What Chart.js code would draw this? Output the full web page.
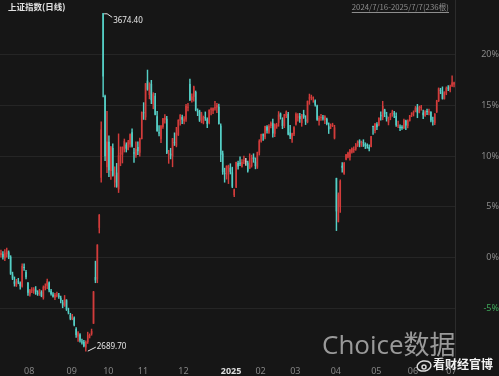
<!DOCTYPE html>
<html>
<head>
<meta charset="utf-8">
<script src="https://cdn.jsdelivr.net/npm/chart.js@4.4.0/dist/chart.umd.min.js"></script>
<style>
  html, body { margin: 0; padding: 0; background: #161616; }
  #wrap { width: 499px; height: 376px; position: relative; }
</style>
</head>
<body>
<div id="wrap"><canvas id="kChart"></canvas></div>
<script>
// month tick labels and number of trading days in each month (2024/7/16 - 2025/7/7)
const monthLabels = ['07', '08', '09', '10', '11', '12', '2025', '02', '03', '04', '05', '06', '07'];
const monthDays = [12, 22, 19, 18, 21, 22, 18, 18, 21, 21, 19, 20, 5];

// daily candles, one line per month
const opens = [
  2970,2973,2960,2972,2978,2965,2913,2893,2880,2893,2889,2878,
  2935,2920,2888,2855,2868,2866,2869,2860,2856,2862,2845,2873,2880,2890,2866,2855,2845,2852,2852,2845,2832,2822,
  2838,2806,2795,2784,2787,2754,2732,2738,2718,2716,2700,2716,2734,2740,2770,2906,2899,3049,3195,
  3674.4,3433,3226,3300,3215,3282,3181,3210,3161,3263,3262,3277,3292,3277,3292,3328,3269,3260,
  3285,3268,3308,3384,3371,3478,3436,3469,3410,3434,3374,3328,3307,3343,3364,3367,3263,3265,3257,3298,3289,
  3320,3361,3372,3360,3365,3399,3468,3422,3431,3445,3387,3388,3364,3355,3372,3366,3355,3393,3390,3398,3400,3402,
  3347,3266,3209,3204,3222,3224,3211,3144,3167,3238,3238,3227,3243,3243,3239,3222,3229,3255,
  3242,3225,3268,3301,3319,3313,3344,3326,3346,3354,3323,3344,3355,3382,3364,3346,3375,3381,
  3327,3306,3322,3350,3371,3375,3354,3381,3365,3357,3426,3428,3426,3420,3405,3360,3369,3371,3363,3367,3345,
  3345,3347,3310,3194,3066,3110,3230,3207,3248,3254,3255,3269,3276,3278,3289,3303,3290,3298,3294,3288,3285,
  3285,3345,3331,3351,3348,3376,3370,3394,3376,3356,3369,3381,3381,3375,3345,3344,3343,3340,3362,
  3346,3361,3378,3383,3388,3400,3385,3398,3385,3376,3389,3385,3387,3361,3354,3386,3419,3450,3447,3425,
  3441,3457,3450,3461,3467
];
const highs = [
  2984,2980,2986,2990,2982,2968,2920,2906,2899,2902,2892,2944,
  2944,2925,2890,2870,2875,2875,2878,2866,2870,2866,2880,2886,2900,2892,2870,2860,2858,2862,2858,2850,2838,2852,
  2840,2815,2800,2797,2790,2758,2747,2741,2725,2721,2720,2745,2740,2754,2864,2952,3000,3088,3358,
  3674.4,3436,3389,3317,3287,3294,3227,3237,3323,3285,3285,3308,3297,3304,3323,3338,3281,3300,
  3300,3311,3387,3414,3470,3509,3472,3479,3443,3441,3389,3347,3347,3368,3379,3374,3275,3281,3310,3326,3342,
  3364,3379,3378,3373,3409,3412,3483,3440,3462,3448,3396,3392,3386,3375,3387,3370,3393,3399,3399,3418,3412,3410,
  3352,3273,3223,3230,3232,3236,3226,3162,3241,3244,3256,3248,3258,3252,3244,3265,3261,3265,
  3253,3270,3306,3322,3323,3346,3347,3350,3358,3366,3352,3354,3388,3384,3370,3380,3390,3386,
  3348,3325,3344,3384,3382,3383,3380,3392,3376,3419,3439,3436,3431,3422,3407,3375,3380,3377,3376,3369,3355,
  3352,3354,3348,3194,3151,3189,3239,3240,3263,3270,3278,3282,3285,3295,3303,3306,3302,3306,3297,3294,3291,
  3316,3346,3353,3356,3370,3387,3418,3395,3386,3372,3383,3392,3389,3384,3360,3349,3347,3366,3363,
  3364,3377,3385,3390,3403,3409,3404,3406,3392,3391,3395,3395,3388,3372,3382,3421,3457,3456,3460,3446,
  3460,3464,3465,3492,3474
];
const lows = [
  2962,2958,2953,2962,2959,2913,2898,2879,2878,2886,2870,2876,
  2925,2900,2852,2850,2860,2858,2855,2852,2852,2848,2841,2868,2872,2862,2853,2847,2840,2848,2843,2830,2816,2820,
  2808,2798,2781,2781,2763,2730,2718,2716,2710,2702,2689.7,2712,2728,2736,2770,2889,2889,3034,3182,
  3431,3245,3210,3198,3190,3200,3168,3167,3152,3230,3238,3270,3270,3276,3284,3284,3240,3254,
  3262,3258,3308,3365,3364,3450,3425,3411,3396,3378,3330,3317,3297,3339,3354,3265,3237,3250,3227,3289,3285,
  3318,3348,3353,3352,3359,3390,3420,3415,3418,3390,3376,3359,3355,3352,3362,3341,3352,3378,3382,3392,3385,3351,
  3242,3205,3182,3191,3178,3206,3166,3140,3166,3220,3230,3226,3236,3231,3211,3222,3226,3240,
  3221,3222,3261,3299,3304,3308,3325,3324,3340,3313,3315,3339,3345,3366,3338,3341,3370,3320,
  3309,3298,3318,3348,3360,3356,3345,3368,3350,3355,3409,3422,3415,3404,3362,3348,3362,3363,3353,3349,3324,
  3338,3344,3308,3041,3066,3094,3211,3205,3247,3253,3246,3267,3269,3275,3286,3285,3286,3286,3280,3281,3273,
  3285,3321,3326,3335,3346,3363,3364,3373,3360,3349,3364,3374,3370,3345,3341,3332,3336,3338,3335,
  3340,3360,3373,3375,3387,3370,3384,3392,3367,3374,3379,3378,3358,3348,3350,3385,3417,3440,3424,3424,
  3437,3449,3445,3461,3460
];
const closes = [
  2976,2962,2977,2982,2964,2915,2901,2886,2890,2891,2879,2938,
  2932,2905,2860,2867,2869,2870,2862,2858,2867,2850,2877,2879,2894,2867,2856,2849,2854,2855,2848,2837,2823,2842,
  2811,2802,2784,2788,2765,2737,2744,2721,2717,2704,2717,2736,2736,2748,2863,2896,3000,3087,3336,
  3490,3258,3301,3217,3284,3201,3202,3169,3261,3268,3285,3302,3280,3300,3322,3286,3266,3279,
  3272,3310,3387,3383,3470,3452,3470,3421,3439,3379,3331,3324,3347,3368,3370,3268,3264,3260,3310,3296,3326,
  3364,3379,3364,3368,3404,3402,3422,3432,3461,3392,3386,3362,3382,3371,3368,3352,3393,3394,3398,3400,3407,3352,
  3262,3211,3206,3230,3230,3212,3169,3161,3241,3228,3236,3241,3244,3243,3214,3231,3253,3250,
  3229,3270,3303,3322,3318,3346,3333,3346,3355,3324,3351,3350,3379,3373,3346,3380,3388,3321,
  3316,3325,3342,3381,3373,3366,3379,3372,3359,3419,3427,3430,3427,3408,3364,3370,3370,3368,3374,3352,3336,
  3348,3350,3342,3097,3146,3186,3224,3238,3263,3268,3276,3281,3277,3292,3300,3296,3297,3296,3288,3287,3279,
  3316,3343,3353,3342,3370,3374,3404,3381,3367,3368,3381,3388,3380,3348,3347,3340,3340,3363,3347,
  3362,3377,3384,3385,3399,3385,3402,3403,3377,3388,3387,3388,3362,3359,3382,3420,3455,3448,3425,3444,
  3457,3455,3461,3473,3473
];

// the index level that sits on the 0% line, and the % ticks on the right
const basePrice = 2962;
const yTicks = [-5, 0, 5, 10, 15, 20];

const titleText = '上证指数(日线)';
const rangeText = '2024/7/16-2025/7/7(236根)';

// build categories: one per trading day, remember first day of each month
const labels = [];
const monthStart = {};
monthDays.forEach((n, m) => {
  for (let d = 0; d < n; d++) {
    if (d === 0 && m > 0) monthStart[labels.length] = monthLabels[m];
    labels.push(monthLabels[m] + '-' + (d + 1));
  }
});

const pct = v => (v / basePrice - 1) * 100;
const upColor = '#d23c3b', downColor = '#55cfc6', flatColor = '#cfcfcf';
const candleColor = i => closes[i] > opens[i] ? upColor : (closes[i] < opens[i] ? downColor : flatColor);

// scales should not reserve room for overflowing tick labels
const noPad = s => { s.paddingTop = 0; s.paddingBottom = 0; s.paddingLeft = 0; s.paddingRight = 0; };

const texts = {
  id: 'texts',
  afterDatasetsDraw(chart) {
    const { ctx, scales: { x, y } } = chart;
    ctx.save();
    ctx.textBaseline = 'middle';

    // header
    ctx.font = 'bold 8.5px "Noto Sans CJK SC"';
    ctx.fillStyle = '#e2e2e2';
    ctx.textAlign = 'left';
    ctx.fillText(titleText, 8, 7);
    ctx.font = '7.8px "Noto Sans CJK SC"';
    ctx.fillStyle = '#8d8d8d';
    ctx.textAlign = 'right';
    ctx.fillText(rangeText, 449, 7);
    const w = ctx.measureText(rangeText).width;
    ctx.fillRect(449 - w, 12, w, 1);

    // max / min marks
    const iMax = highs.indexOf(Math.max(...highs));
    const iMin = lows.indexOf(Math.min(...lows));
    ctx.strokeStyle = '#e6e6e6';
    ctx.fillStyle = '#e6e6e6';
    ctx.lineWidth = 1;
    ctx.font = '8px "Noto Sans"';
    ctx.textAlign = 'left';
    let px = x.getPixelForValue(iMax), py = y.getPixelForValue(pct(highs[iMax]));
    ctx.beginPath();
    ctx.moveTo(px + 1, py + 0.5);
    ctx.lineTo(px + 4, py + 0.5);
    ctx.lineTo(px + 9, py + 4);
    ctx.stroke();
    ctx.fillText(highs[iMax].toFixed(2), px + 10, py + 7);
    px = x.getPixelForValue(iMin); py = y.getPixelForValue(pct(lows[iMin]));
    ctx.beginPath();
    ctx.moveTo(px + 2, py);
    ctx.lineTo(px + 10, py - 4);
    ctx.stroke();
    ctx.fillText(lows[iMin].toFixed(2), px + 11, py - 4);

    // watermarks
    ctx.font = '26px "Open Sans", "Noto Sans CJK SC"';
    ctx.fillStyle = 'rgba(205,205,205,0.72)';
    ctx.textAlign = 'left';
    ctx.fillText('Choice数据', 322, 347);
    ctx.strokeStyle = 'rgba(240,240,240,0.9)';
    ctx.lineWidth = 1.5;
    ctx.beginPath();
    ctx.ellipse(424, 366, 7, 5, -0.2, 0, Math.PI * 2);
    ctx.stroke();
    ctx.beginPath();
    ctx.arc(424, 367, 2, 0, Math.PI * 2);
    ctx.stroke();
    ctx.font = 'bold 12px "Noto Sans CJK SC"';
    ctx.fillStyle = '#f2f2f2';
    ctx.fillText('看财经官博', 433, 364);
    ctx.restore();
  }
};

new Chart(document.getElementById('kChart'), {
  type: 'bar',
  data: {
    labels: labels,
    datasets: [{
      label: 'body',
      data: opens.map((o, i) => [pct(o), pct(closes[i])]),
      backgroundColor: ctx => candleColor(ctx.dataIndex),
      barPercentage: 0.8,
      categoryPercentage: 1,
      minBarLength: 1,
      grouped: false
    }, {
      label: 'wick',
      data: lows.map((l, i) => [pct(l), pct(highs[i])]),
      backgroundColor: ctx => candleColor(ctx.dataIndex),
      barThickness: 0.8,
      minBarLength: 1,
      grouped: false
    }]
  },
  options: {
    responsive: true,
    maintainAspectRatio: false,
    animation: false,
    layout: { padding: 0 },
    plugins: { legend: { display: false }, tooltip: { enabled: false } },
    scales: {
      x: {
        offset: true,
        grid: { display: false, drawTicks: false },
        border: { display: false },
        afterBuildTicks: s => { s.ticks = Object.keys(monthStart).map(k => ({ value: +k })); },
        afterFit: s => { s.height = 12; noPad(s); },
        ticks: {
          autoSkip: false,
          maxRotation: 0,
          align: 'start',
          padding: 2,
          font: ctx => ({ size: 9, weight: monthStart[ctx.tick && ctx.tick.value] === '2025' ? 'bold' : 'normal', family: '"Noto Sans"' }),
          color: ctx => monthStart[ctx.tick && ctx.tick.value] === '2025' ? '#dcdcdc' : '#858585',
          callback: v => monthStart[v]
        }
      },
      y: {
        position: 'right',
        min: -10.46,
        max: 25.36,
        grid: { color: '#252525', drawTicks: false },
        border: { color: '#2c2c2c' },
        afterBuildTicks: s => { s.ticks = yTicks.map(v => ({ value: v })); },
        afterFit: s => { s.width = 44; noPad(s); },
        ticks: {
          crossAlign: 'far',
          padding: 24,
          font: { size: 9, family: '"Noto Sans"' },
          color: ctx => ctx.tick.value < 0 ? '#3fa75a' : '#8a8a8a',
          callback: v => v + '%'
        }
      }
    }
  },
  plugins: [texts]
});
</script>
</body>
</html>
